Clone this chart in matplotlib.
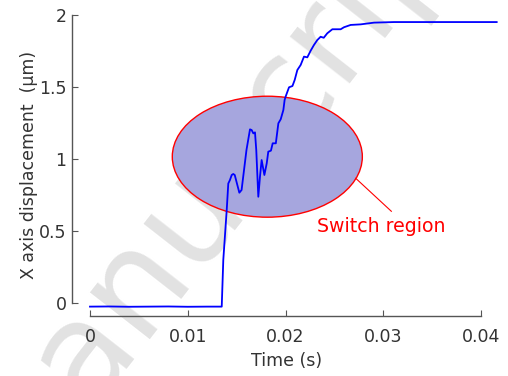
import matplotlib
matplotlib.use('Agg')
import matplotlib.pyplot as plt
from matplotlib.patches import Ellipse

# displacement trace (time in s, displacement in um)
t = [0.0, 0.002, 0.004, 0.006, 0.008, 0.010, 0.012, 0.01347,
     0.01363, 0.01398, 0.01414, 0.01431, 0.01449, 0.01465, 0.0148,
     0.01527, 0.0155, 0.0160, 0.01636, 0.01653, 0.0167, 0.01687,
     0.0170, 0.01721, 0.01738, 0.01755, 0.01783, 0.01807, 0.01823,
     0.0185, 0.01868, 0.0190, 0.01926, 0.0195, 0.01977, 0.0199,
     0.0200, 0.02035, 0.0207, 0.02093, 0.0212, 0.02154, 0.02188,
     0.02222, 0.02256, 0.0229, 0.02324, 0.02358, 0.0239, 0.02426,
     0.02478, 0.02563, 0.02597, 0.02665, 0.02768, 0.02904, 0.03108,
     0.03313, 0.03586, 0.03893, 0.04158]
x_disp = [-0.025, -0.024, -0.026, -0.025, -0.024, -0.026, -0.025, -0.025,
          0.30, 0.646, 0.83, 0.854, 0.889, 0.896, 0.889,
          0.766, 0.785, 1.063, 1.206, 1.201, 1.178, 1.185,
          1.063, 0.738, 0.877, 0.993, 0.889, 0.970, 1.051,
          1.058, 1.109, 1.109, 1.248, 1.276, 1.34, 1.41,
          1.433, 1.498, 1.507, 1.549, 1.618, 1.653, 1.711,
          1.706, 1.752, 1.792, 1.826, 1.849, 1.842, 1.873,
          1.901, 1.901, 1.915, 1.931, 1.935, 1.947, 1.951,
          1.951, 1.951, 1.951, 1.951]

x_ticks = [0, 0.01, 0.02, 0.03, 0.04]
x_ticklabels = ['0', '0.01', '0.02', '0.03', '0.04']
y_ticks = [0, 0.5, 1, 1.5, 2]
y_ticklabels = ['0', '0.5', '1', '1.5', '2']

plt.rcParams['font.family'] = ['DejaVu Sans']
axis_grey = '#555555'
text_grey = '#333333'

fig = plt.figure(figsize=(5.08, 3.76), dpi=100)

# faint diagonal watermark behind the plot
fig.text(0.421, 0.522, 'manuscript', fontsize=100, color='#e2e2e2',
         rotation=52, ha='center', va='center', zorder=0)

ax = fig.add_axes([0.1417, 0.1604, 0.8441, 0.7997], zorder=1)
ax.patch.set_alpha(0)

ax.add_patch(Ellipse((0.01813, 1.016), 0.01943, 0.84, facecolor='#a6a6de',
                     edgecolor='red', linewidth=1.0, zorder=2))
ax.plot(t, x_disp, color='blue', linewidth=1.3, zorder=3)

# callout for the switching region
ax.plot([0.02717, 0.03081], [0.866, 0.637], color='red', linewidth=0.8)
ax.text(0.02981, 0.528, 'Switch region', color='red', fontsize=13.6,
        ha='center', va='center')

ax.set_xlim(-0.00184, 0.042)
ax.set_ylim(-0.088, 2.0)

for side in ['top', 'right']:
    ax.spines[side].set_visible(False)
ax.spines['left'].set_bounds(0, 2)
ax.spines['bottom'].set_bounds(0, 0.04)
for side in ['left', 'bottom']:
    ax.spines[side].set_color(axis_grey)
    ax.spines[side].set_linewidth(1.0)

ax.set_xticks(x_ticks)
ax.set_xticklabels(x_ticklabels)
ax.set_yticks(y_ticks)
ax.set_yticklabels(y_ticklabels)
ax.tick_params(direction='in', length=4, color=axis_grey, labelcolor=text_grey,
               labelsize=12.5)
ax.tick_params(axis='x', pad=9)
ax.tick_params(axis='y', pad=4)

ax.set_xlabel('Time (s)', fontsize=12.5, color=text_grey, labelpad=4)
ax.set_ylabel('X axis displacement  (\u03bcm)', fontsize=12.5, color=text_grey,
              labelpad=1)

fig.savefig('out.png', dpi=100)
